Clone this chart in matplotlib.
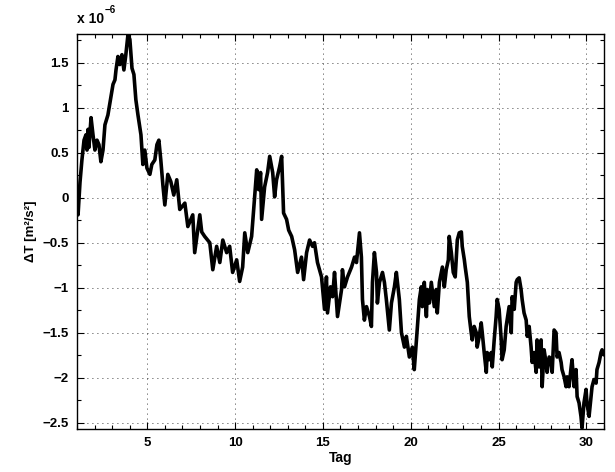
import numpy as np
import matplotlib
matplotlib.use("Agg")
import matplotlib.pyplot as plt
from matplotlib.ticker import MultipleLocator

tag = [1.00, 1.06, 1.17, 1.28, 1.40, 1.51, 1.57, 1.63, 1.68, 1.80, 1.91, 2.02, 2.14, 2.25, 2.36,
       2.48, 2.59, 2.76, 2.88, 3.05, 3.16, 3.22, 3.33, 3.44, 3.56, 3.67, 3.78, 3.90, 4.01, 4.13,
       4.24, 4.35, 4.47, 4.64, 4.75, 4.86, 4.98, 5.15, 5.26, 5.43, 5.55, 5.66, 5.77, 5.89,
       6.00, 6.17, 6.34, 6.51, 6.68, 6.85, 7.14, 7.31, 7.59, 7.70, 7.99, 8.10, 8.27, 8.56, 8.73,
       8.95, 9.13, 9.30, 9.52, 9.69, 9.86, 10.09, 10.26, 10.43,
       10.55, 10.72, 10.94, 11.11, 11.23, 11.34, 11.45, 11.51, 11.68, 11.85, 11.97, 12.14, 12.25,
       12.36, 12.53, 12.65, 12.76, 12.93, 13.05, 13.22, 13.39, 13.56, 13.78, 13.90, 14.07, 14.24,
       14.41, 14.52, 14.69, 14.92, 15.09, 15.20, 15.26,
       15.43, 15.55, 15.66, 15.83, 16.06, 16.11, 16.23, 16.40, 16.63, 16.80, 16.91, 17.08, 17.19,
       17.25, 17.36, 17.48, 17.65, 17.76, 17.82, 17.93, 18.05, 18.10, 18.22, 18.39, 18.50, 18.61,
       18.78, 18.90, 19.07, 19.18, 19.35, 19.47, 19.64, 19.75, 19.92, 20.09, 20.20, 20.32,
       20.38, 20.49, 20.60, 20.66, 20.77, 20.89, 20.94, 21.06, 21.17, 21.34, 21.45, 21.51, 21.63,
       21.80, 21.91, 22.02, 22.14, 22.19, 22.31, 22.42, 22.53, 22.65, 22.76, 22.88, 22.93, 23.05,
       23.10, 23.22, 23.33, 23.44, 23.50, 23.61, 23.73, 23.78, 23.90, 24.01, 24.07, 24.18, 24.30,
       24.35, 24.47, 24.58, 24.64, 24.75, 24.86, 24.92, 25.03, 25.15, 25.20, 25.32, 25.43,
       25.60, 25.72, 25.77, 25.89, 26.00, 26.06, 26.17, 26.28, 26.34, 26.45, 26.57, 26.63, 26.74,
       26.85, 26.91, 27.02, 27.14, 27.19, 27.31, 27.42, 27.48, 27.59, 27.70, 27.76, 27.88, 27.99,
       28.05, 28.16, 28.27, 28.33, 28.44, 28.56, 28.61, 28.73, 28.84, 28.90, 29.01, 29.13, 29.18,
       29.30, 29.41, 29.47, 29.58, 29.69, 29.75, 29.86, 29.98, 30.03, 30.15, 30.26, 30.32, 30.43,
       30.55, 30.60, 30.72, 30.83, 30.89, 31.00]
dT = [-0.13, -0.19, 0.17, 0.42, 0.64, 0.70, 0.53, 0.76, 0.56, 0.89, 0.70, 0.53, 0.64, 0.59, 0.40,
      0.53, 0.81, 0.92, 1.06, 1.26, 1.31, 1.42, 1.57, 1.48, 1.59, 1.42, 1.59, 1.81, 1.76, 1.44,
      1.37, 1.09, 0.92, 0.70, 0.37, 0.53, 0.33, 0.26, 0.37, 0.42, 0.59, 0.64, 0.42, 0.14,
      -0.08, 0.26, 0.18, 0.03, 0.20, -0.13, -0.06, -0.32, -0.19, -0.61, -0.19, -0.38, -0.43, -0.50, -0.80,
      -0.54, -0.72, -0.47, -0.61, -0.54, -0.83, -0.69, -0.93, -0.77,
      -0.39, -0.61, -0.43, 0.01, 0.31, 0.09, 0.28, -0.24, 0.12, 0.28, 0.46, 0.28, 0.01,
      0.20, 0.34, 0.46, -0.17, -0.24, -0.36, -0.43, -0.58, -0.83, -0.66, -0.91, -0.61, -0.47,
      -0.54, -0.50, -0.72, -0.88, -1.24, -0.88, -1.28,
      -0.99, -1.10, -0.83, -1.32, -1.02, -0.80, -0.99, -0.88, -0.77, -0.66, -0.72, -0.39, -0.66,
      -1.13, -1.36, -1.21, -1.32, -1.43, -0.94, -0.61, -0.83, -1.17, -0.94, -0.83, -0.94, -1.13,
      -1.47, -1.17, -0.99, -0.83, -1.13, -1.50, -1.66, -1.54, -1.77, -1.66, -1.91, -1.58,
      -1.43, -1.13, -0.99, -1.21, -0.94, -1.32, -1.02, -1.17, -0.94, -1.21, -1.02, -1.28, -0.94,
      -0.77, -0.99, -0.80, -0.69, -0.43, -0.61, -0.83, -0.88, -0.47, -0.39, -0.38, -0.54, -0.69,
      -0.77, -0.94, -1.32, -1.50, -1.58, -1.43, -1.50, -1.66, -1.54, -1.39, -1.50, -1.72, -1.94,
      -1.72, -1.80, -1.72, -1.88, -1.58, -1.32, -1.13, -1.24, -1.58, -1.80, -1.69, -1.43,
      -1.21, -1.50, -1.10, -1.24, -0.94, -0.91, -0.89, -1.02, -1.13, -1.28, -1.36, -1.54, -1.43,
      -1.66, -1.83, -1.72, -1.94, -1.58, -1.88, -1.58, -2.10, -1.69, -1.83, -1.94, -1.77, -1.80,
      -1.94, -1.47, -1.50, -1.77, -1.72, -1.83, -1.91, -1.99, -2.10, -1.99, -2.10, -1.88, -1.80,
      -2.10, -1.91, -2.21, -2.28, -2.43, -2.56, -2.28, -2.13, -2.28, -2.43, -2.21, -2.10, -2.02,
      -2.06, -1.91, -1.83, -1.72, -1.69, -1.74]

y_ticks = [-2.5, -2, -1.5, -1, -0.5, 0, 0.5, 1, 1.5]
x_ticks = [5, 10, 15, 20, 25, 30]

plt.rcParams['font.family'] = ['Liberation Sans', 'DejaVu Sans']

fig = plt.figure(figsize=(6.15, 4.72), dpi=100)
ax = fig.add_axes([0.1252, 0.0911, 0.8569, 0.8369])

ax.plot(tag, np.array(dT) * 1e-6, color='black', linewidth=2.6)

ax.set_xlim(1, 31)
ax.set_ylim(-2.57e-6, 1.82e-6)
ax.set_xticks(x_ticks)
ax.set_xticklabels([str(t) for t in x_ticks], fontweight='bold', fontsize=9.5)
ax.set_yticks([v * 1e-6 for v in y_ticks])
ax.set_yticklabels([('%g' % v).replace('-', '\u2212') for v in y_ticks],
                   fontweight='bold', fontsize=9.5)
ax.xaxis.set_minor_locator(MultipleLocator(1))
ax.yaxis.set_minor_locator(MultipleLocator(0.25e-6))
ax.tick_params(which='both', direction='in', top=True, right=True, width=0.8)
ax.tick_params(which='major', length=5, pad=6)
ax.tick_params(which='minor', length=3)
ax.grid(True, which='major', color='black', linestyle=(0, (1, 5)), linewidth=0.6)
for s in ax.spines.values():
    s.set_linewidth(1.0)

ax.set_xlabel('Tag', fontweight='bold', fontsize=10, labelpad=1)
ax.set_ylabel('\u0394T [m\u00b2/s\u00b2]', fontweight='bold', fontsize=9.5, labelpad=4)

fig.text(0.1252, 0.945, 'x 10', fontweight='bold', fontsize=10, ha='left', va='bottom')
fig.text(0.1700, 0.968, '\u22126', fontweight='bold', fontsize=7, ha='left', va='bottom')

fig.savefig('out.png', dpi=100)
